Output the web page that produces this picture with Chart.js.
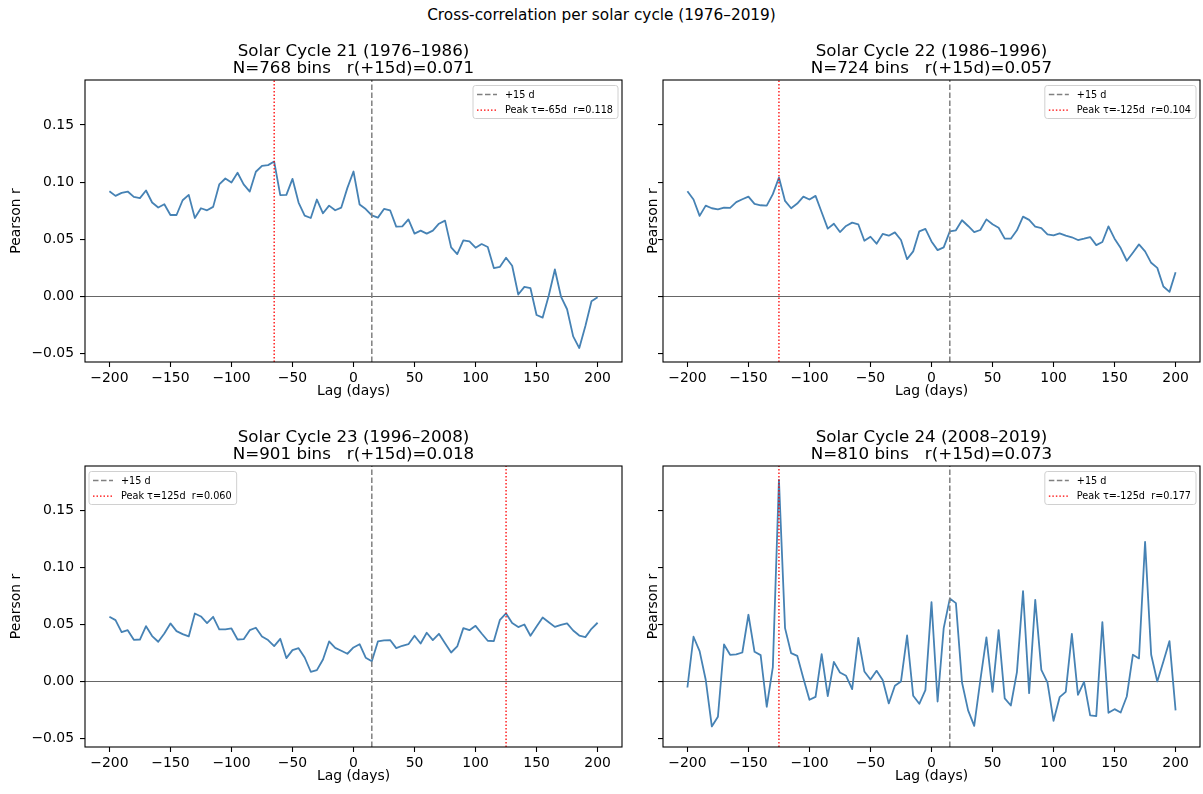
<!DOCTYPE html>
<html>
<head>
<meta charset="utf-8">
<script src="https://cdn.jsdelivr.net/npm/chart.js@4.4.1/dist/chart.umd.min.js"></script>
<style>
html,body{margin:0;padding:0;background:#fff;}
body{width:1203px;height:794px;overflow:hidden;position:relative;font-family:"DejaVu Sans";}
canvas{position:absolute;}
#sup{position:absolute;left:0;top:5px;width:1203px;text-align:center;font-family:"DejaVu Sans";font-size:15.3px;line-height:20px;color:#000;}
</style>
</head>
<body>
<div id="sup">Cross-correlation per solar cycle (1976–2019)</div>
<canvas id="c21" width="632" height="379" style="left:0px;top:28px;"></canvas>
<canvas id="c22" width="571" height="379" style="left:632px;top:28px;"></canvas>
<canvas id="c23" width="632" height="378" style="left:0px;top:414px;"></canvas>
<canvas id="c24" width="571" height="378" style="left:632px;top:414px;"></canvas>
<script>
// ---------- data ----------
const LAGS = [-200,-195,-190,-185,-180,-175,-170,-165,-160,-155,-150,-145,-140,-135,-130,-125,-120,-115,-110,-105,
  -100,-95,-90,-85,-80,-75,-70,-65,-60,-55,-50,-45,-40,-35,-30,-25,-20,-15,-10,-5,
  0,5,10,15,20,25,30,35,40,45,50,55,60,65,70,75,80,85,90,95,100,105,110,115,120,125,130,135,140,145,150,
  155,160,165,170,175,180,185,190,195,200];

const CYCLE21 = [0.092,0.088,0.0906,0.0918,0.0871,0.086,0.0927,0.0822,0.0778,0.0807,
  0.0713,0.0713,0.0842,0.0889,0.0687,0.0772,0.0754,0.0784,0.098,0.1032,
  0.0997,0.1082,0.098,0.0918,0.1091,0.1143,0.1149,0.118,0.0886,0.0889,
  0.1029,0.0822,0.0708,0.0687,0.0848,0.0728,0.0795,0.0754,0.0778,0.095,
  0.1093,
  0.0805,0.0765,0.071,0.069,0.0766,0.0754,0.0611,0.0614,0.0675,0.055,
  0.0576,0.055,0.0576,0.0637,0.0664,0.043,0.0371,0.0491,0.0482,0.0427,
  0.0459,0.0433,0.0249,0.026,0.0339,0.0269,0.0018,0.0085,0.0073,-0.0161,
  -0.0184,0.0009,0.0237,0.0,-0.0111,-0.0348,-0.045,-0.0257,-0.0041,-0.0006];

const CYCLE22 = [0.092,0.0848,0.0705,0.0795,0.0772,0.0763,0.0778,0.0775,0.0825,0.0851,
  0.0874,0.081,0.0798,0.0795,0.0895,0.104,0.0836,0.0772,0.0813,0.0874,
  0.0848,0.088,0.0737,0.0594,0.0637,0.0564,0.0617,0.0646,0.0632,0.0488,
  0.0523,0.0462,0.0547,0.0532,0.0561,0.0494,0.0327,0.0395,0.057,0.0591,
  0.0482,
  0.0406,0.043,0.057,0.0579,0.0667,0.0617,0.0564,0.0582,0.0675,0.0632,
  0.0602,0.0506,0.0506,0.0579,0.0699,0.067,0.0611,0.0599,0.0544,0.0535,
  0.0553,0.0532,0.0518,0.0494,0.0506,0.052,0.045,0.0477,0.0614,0.0506,
  0.0424,0.0313,0.0383,0.0456,0.0395,0.0295,0.0251,0.0088,0.0041,0.0213];

const CYCLE23 = [0.057,0.0541,0.0436,0.0453,0.0368,0.0371,0.0488,0.0401,0.0351,0.0424,
  0.0512,0.0444,0.0418,0.0398,0.0599,0.0573,0.0515,0.057,0.0459,0.0459,
  0.0468,0.0371,0.0374,0.0453,0.0474,0.0398,0.0366,0.0313,0.0377,0.0208,
  0.0278,0.0295,0.0213,0.0088,0.0102,0.0196,0.0354,0.0298,0.0272,0.0246,
  0.0301,
  0.033,0.0211,0.018,0.0354,0.0363,0.0366,0.0295,0.0316,0.033,0.0404,
  0.0336,0.043,0.0366,0.0421,0.0339,0.0257,0.031,0.0471,0.0453,0.0491,
  0.0424,0.036,0.0357,0.0544,0.060,0.0515,0.048,0.0503,0.0404,0.0485,
  0.0564,0.0523,0.0482,0.05,0.0512,0.045,0.0406,0.0392,0.0465,0.0518];

const CYCLE24 = [-0.005,0.0395,0.0269,0.0018,-0.0392,-0.0307,0.0327,0.0237,0.024,0.0257,
  0.0588,0.0263,0.0234,-0.0219,0.0129,0.177,0.0471,0.0251,0.0228,0.0032,
  -0.0158,-0.0132,0.0243,-0.0126,0.0175,0.0082,0.0053,-0.0064,0.0386,0.0091,
  0.002,0.0096,0.0015,-0.019,-0.0035,0.0003,0.0406,-0.0123,-0.0193,-0.0073,
  0.0699,
  -0.0173,0.0471,0.073,0.069,-0.0006,-0.0251,-0.0386,0.0012,0.0389,-0.0088,
  0.0453,-0.0146,-0.0208,0.0085,0.0795,-0.0099,0.0719,0.0105,-0.0006,-0.0342,
  -0.0135,-0.0088,0.0421,-0.0114,0.0,-0.0295,-0.0301,0.0523,-0.0272,-0.024,
  -0.0269,-0.0129,0.0237,0.0205,0.1228,0.0237,0.0003,0.0178,0.0357,-0.0251];

const TITLES = [
  ['Solar Cycle 21 (1976–1986)', 'N=768 bins   r(+15d)=0.071'],
  ['Solar Cycle 22 (1986–1996)', 'N=724 bins   r(+15d)=0.057'],
  ['Solar Cycle 23 (1996–2008)', 'N=901 bins   r(+15d)=0.018'],
  ['Solar Cycle 24 (2008–2019)', 'N=810 bins   r(+15d)=0.073']
];
const MARK_LAG = 15;
const MARK_LABEL = '+15 d';
const PEAK_LAGS = [-65, -125, 125, -125];
const PEAK_LABELS = ['Peak τ=-65d  r=0.118', 'Peak τ=-125d  r=0.104', 'Peak τ=125d  r=0.060', 'Peak τ=-125d  r=0.177'];

const X_TICKS = [-200,-150,-100,-50,0,50,100,150,200];
const Y_TICKS = [-0.05,0.00,0.05,0.10,0.15];
const X_MIN = -220, X_MAX = 220;
const Y_MIN = -0.0572, Y_MAX = 0.1893;

// ---------- rendering ----------
const FONT = 'DejaVu Sans';
Chart.defaults.font.family = FONT;
Chart.defaults.color = '#000';

const fmtX = v => (v < 0 ? '\u2212' + Math.abs(v) : String(v));
const fmtY = v => (v < -1e-9 ? '\u2212' : '') + Math.abs(v).toFixed(2);

const framePlugin = {
  id: 'frame',
  afterDatasetsDraw(chart) {
    const {ctx, chartArea: a} = chart;
    ctx.save();
    ctx.strokeStyle = '#000';
    ctx.lineWidth = 1.1;
    ctx.setLineDash([]);
    ctx.strokeRect(a.left, a.top, a.right - a.left, a.bottom - a.top);
    ctx.restore();
  }
};

const boxLegend = {
  id: 'boxLegend',
  afterDraw(chart, args, opts) {
    const ctx = chart.ctx, a = chart.chartArea;
    const items = chart.data.datasets.filter(d => d.inLegend);
    ctx.save();
    ctx.font = '9.7px "' + FONT + '"';
    const tw = Math.max(...items.map(d => ctx.measureText(d.label).width));
    const padX = 4, sample = 20, gap = 8, rowH = 15.7, h = 33;
    const w = padX + sample + gap + tw + padX + 1;
    const x = opts.corner === 'left' ? a.left + 4 : a.right - 4 - w;
    const y = a.top + 5.5;
    ctx.beginPath();
    ctx.roundRect(x, y, w, h, 2.5);
    ctx.fillStyle = 'rgba(255,255,255,0.8)';
    ctx.fill();
    ctx.strokeStyle = '#d0d0d0';
    ctx.lineWidth = 1;
    ctx.stroke();
    items.forEach((d, i) => {
      const cy = y + 9 + i * rowH;
      ctx.beginPath();
      ctx.setLineDash(d.borderDash || []);
      ctx.strokeStyle = d.borderColor;
      ctx.lineWidth = d.borderWidth;
      ctx.moveTo(x + padX, cy);
      ctx.lineTo(x + padX + sample, cy);
      ctx.stroke();
      ctx.setLineDash([]);
      ctx.fillStyle = '#000';
      ctx.textBaseline = 'middle';
      ctx.textAlign = 'left';
      ctx.fillText(d.label, x + padX + sample + gap, cy + 0.5);
    });
    ctx.restore();
  }
};

function makeChart(id, values, idx, isLeft, corner) {
  const pts = LAGS.map((l, i) => ({x: l, y: values[i]}));
  const titlePadTop = 14.7;
  new Chart(document.getElementById(id), {
    type: 'line',
    data: {
      datasets: [
        {label: 'r', data: pts, borderColor: '#4682b4', borderWidth: 1.8, pointRadius: 0,
         tension: 0, fill: false, order: 3, borderJoinStyle: 'round'},
        {label: MARK_LABEL, inLegend: true, data: [{x: MARK_LAG, y: Y_MIN}, {x: MARK_LAG, y: Y_MAX}],
         borderColor: '#808080', borderDash: [5.5, 2.5], borderWidth: 1.5, pointRadius: 0, order: 2},
        {label: PEAK_LABELS[idx], inLegend: true,
         data: [{x: PEAK_LAGS[idx], y: Y_MIN}, {x: PEAK_LAGS[idx], y: Y_MAX}],
         borderColor: '#ff0000', borderDash: [1.5, 2], borderWidth: 1.3, pointRadius: 0, order: 1}
      ]
    },
    options: {
      responsive: false,
      animation: false,
      devicePixelRatio: 1,
      events: [],
      layout: {padding: {left: 0, top: 0, bottom: 0, right: isLeft ? 10 : 3}},
      plugins: {
        legend: {display: false},
        tooltip: {enabled: false},
        title: {
          display: true, fullSize: false, text: TITLES[idx], color: '#000',
          font: {family: FONT, size: 16.7, weight: 'normal', lineHeight: 1.05},
          padding: {top: titlePadTop, bottom: 52 - 35.07 - titlePadTop}
        },
        boxLegend: {corner: corner}
      },
      scales: {
        x: {
          type: 'linear', min: X_MIN, max: X_MAX,
          afterBuildTicks: s => { s.ticks = X_TICKS.map(v => ({value: v})); },
          afterFit: s => { s.height = 45; },
          ticks: {callback: v => fmtX(v), font: {size: 13.9}, color: '#000', padding: 3,
                  maxRotation: 0, autoSkip: false},
          grid: {drawOnChartArea: false, drawTicks: true, tickLength: 5, tickColor: '#000', tickWidth: 1.1},
          border: {display: false},
          title: {display: true, text: 'Lag (days)', color: '#000', font: {size: 13.9},
                  padding: {top: 0, bottom: 7.2}}
        },
        y: {
          type: 'linear', min: Y_MIN, max: Y_MAX,
          afterBuildTicks: s => { s.ticks = Y_TICKS.map(v => ({value: v})); },
          afterFit: s => { s.width = isLeft ? 85 : 31; },
          ticks: {callback: v => (isLeft ? fmtY(v) : ''), font: {size: 13.9}, color: '#000', padding: 6,
                  autoSkip: false},
          grid: {
            drawOnChartArea: true, drawTicks: true, tickLength: 5, tickColor: '#000', tickWidth: 1.1,
            lineWidth: 1.1,
            color: c => (c.tick && Math.abs(c.tick.value) < 1e-9 ? 'rgba(0,0,0,0.6)' : 'rgba(0,0,0,0)')
          },
          border: {display: false},
          title: {display: true, text: 'Pearson r', color: '#000', font: {size: 13.9},
                  padding: {top: isLeft ? 8.3 : 12.7, bottom: 0}}
        }
      }
    },
    plugins: [framePlugin, boxLegend]
  });
}

makeChart('c21', CYCLE21, 0, true, 'right');
makeChart('c22', CYCLE22, 1, false, 'right');
makeChart('c23', CYCLE23, 2, true, 'left');
makeChart('c24', CYCLE24, 3, false, 'right');
</script>
</body>
</html>
